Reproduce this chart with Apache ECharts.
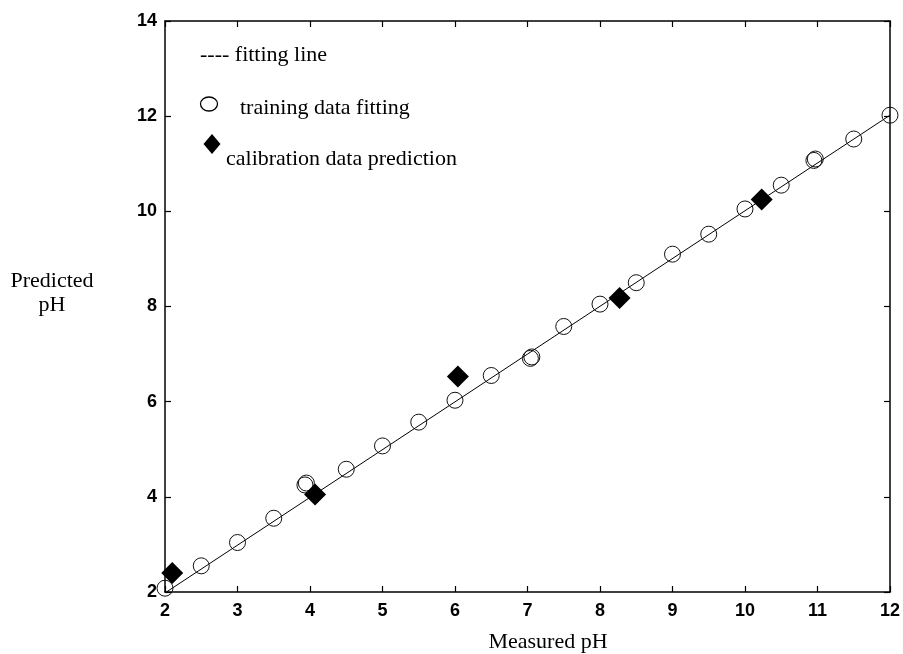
<!DOCTYPE html>
<html>
<head>
<meta charset="utf-8">
<script src="https://cdn.jsdelivr.net/npm/echarts@6/dist/echarts.min.js"></script>
<style>
  html, body { margin: 0; padding: 0; background: #fff; }
  #chart { width: 903px; height: 654px; }
</style>
</head>
<body>
<div id="chart"></div>
<script>
// training data (measured pH, predicted pH)
const trainingData = [
  [2.0, 2.08], [2.5, 2.55], [3.0, 3.04], [3.5, 3.55],
  [3.93, 4.25], [3.95, 4.29],
  [4.5, 4.58], [5.0, 5.07], [5.5, 5.57], [6.0, 6.03], [6.5, 6.55],
  [7.04, 6.91], [7.06, 6.94],
  [7.5, 7.58], [8.0, 8.05], [8.5, 8.5], [9.0, 9.1], [9.5, 9.52],
  [10.0, 10.05], [10.5, 10.55],
  [10.95, 11.07], [10.97, 11.1],
  [11.5, 11.52], [12.0, 12.02],
]
// calibration data prediction
const calibrationData = [
  [2.1, 2.4], [4.07, 4.05], [6.04, 6.53], [8.27, 8.18], [10.23, 10.25],
]
// fitting line end points
const fitLine = [[2.0, 1.98], [12.0, 12.02]]

const xTicks = { min: 2, max: 12, interval: 1 }
const yTicks = { min: 2, max: 14, interval: 2 }

const serif = '"Liberation Serif", "DejaVu Serif", serif'
const sans = '"Liberation Sans", Arial, sans-serif'

const chart = echarts.init(document.getElementById('chart'))

const axisLine = { show: true, lineStyle: { color: '#000', width: 1.5 } }
const axisTick = { show: true, inside: true, length: 6, lineStyle: { color: '#000', width: 1.2 } }
const tickLabel = { color: '#000', fontFamily: sans, fontWeight: 'bold', fontSize: 18 }

const option = {
  backgroundColor: '#fff',
  animation: false,
  grid: { left: 165, right: 12, top: 21, bottom: 62 },
  xAxis: [
    {
      type: 'value', ...xTicks, position: 'bottom',
      axisLine, axisTick, splitLine: { show: false },
      axisLabel: { ...tickLabel, margin: 10 },
    },
    {
      type: 'value', ...xTicks, position: 'top',
      axisLine, axisTick, splitLine: { show: false }, axisLabel: { show: false },
    },
  ],
  yAxis: [
    {
      type: 'value', ...yTicks, position: 'left',
      axisLine, axisTick, splitLine: { show: false },
      axisLabel: { ...tickLabel, margin: 8 },
    },
    {
      type: 'value', ...yTicks, position: 'right',
      axisLine, axisTick, splitLine: { show: false }, axisLabel: { show: false },
    },
  ],
  series: [
    {
      name: 'fitting line',
      type: 'line',
      data: fitLine,
      symbol: 'none',
      lineStyle: { color: '#000', width: 1 },
      z: 1,
    },
    {
      name: 'training data fitting',
      type: 'scatter',
      data: trainingData,
      symbol: 'circle',
      symbolSize: 16,
      itemStyle: { color: 'rgba(255,255,255,0)', borderColor: '#111', borderWidth: 1, opacity: 1 },
      z: 2,
    },
    {
      name: 'calibration data prediction',
      type: 'scatter',
      data: calibrationData,
      symbol: 'diamond',
      symbolSize: [22, 22],
      itemStyle: { color: '#000', opacity: 1 },
      z: 3,
    },
  ],
  graphic: [
    { type: 'text', x: 200, y: 55, style: { text: '---- fitting line', font: '22px ' + serif, fill: '#000', verticalAlign: 'middle' } },
    { type: 'ellipse', shape: { cx: 209, cy: 104, rx: 8.5, ry: 7 }, style: { fill: 'none', stroke: '#000', lineWidth: 1.3 } },
    { type: 'text', x: 240, y: 108, style: { text: 'training data fitting', font: '22px ' + serif, fill: '#000', verticalAlign: 'middle' } },
    { type: 'polygon', shape: { points: [[212, 134], [220.5, 144], [212, 154], [203.5, 144]] }, style: { fill: '#000' } },
    { type: 'text', x: 226, y: 159, style: { text: 'calibration data prediction', font: '22px ' + serif, fill: '#000', verticalAlign: 'middle' } },
    { type: 'text', x: 52, y: 293, style: { text: 'Predicted\npH', font: '22px ' + serif, fill: '#000', align: 'center', verticalAlign: 'middle', lineHeight: 24 } },
    { type: 'text', x: 548, y: 642, style: { text: 'Measured pH', font: '22px ' + serif, fill: '#000', align: 'center', verticalAlign: 'middle' } },
  ],
}

chart.setOption(option)
</script>
</body>
</html>
